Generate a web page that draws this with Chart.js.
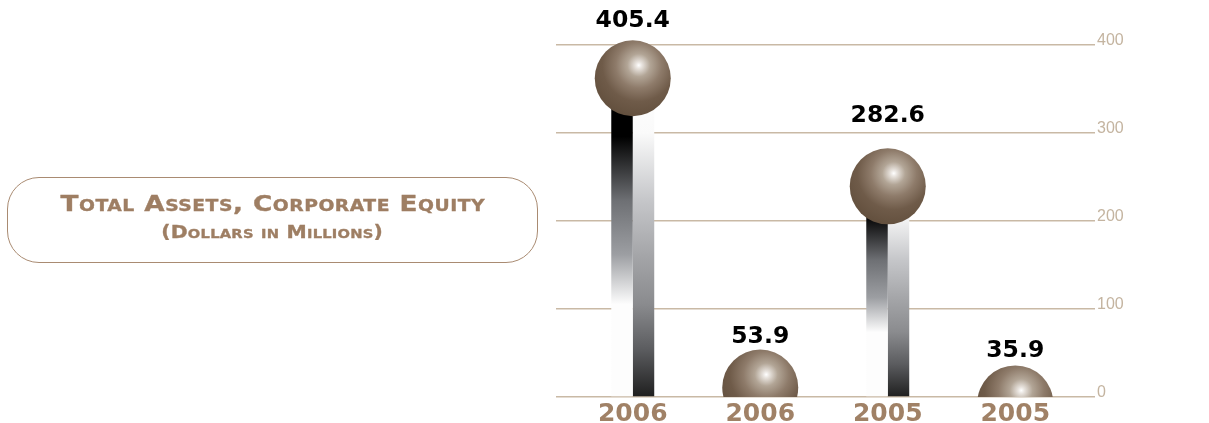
<!DOCTYPE html>
<html lang="en">
<head>
  <meta charset="UTF-8" />
  <title>Total Assets, Corporate Equity</title>
  <script src="https://cdn.jsdelivr.net/npm/chart.js"></script>
  <style>
    html, body { margin: 0; padding: 0; background: #fff; }
    #wrap { position: relative; width: 1209px; height: 423px; }
    #titulo {
      position: absolute; left: 7px; top: 177px; width: 531px; height: 86px;
      border: 1.4px solid #a98b72; border-radius: 32px; box-sizing: border-box;
      padding-top: 12px; text-align: center;
      font-family: "DejaVu Sans", sans-serif; font-weight: bold; font-variant: small-caps;
      color: #9e7e63; z-index: 2; -webkit-text-stroke: 0.35px #9e7e63;
    }
    #titulo div { height: 28px; }
    #titulo span { display: inline-block; transform-origin: center; white-space: nowrap; }
    #titulo .l1 span { font-size: 21px; line-height: 28px; letter-spacing: 0.4px; transform: scaleX(1.25); }
    #titulo .l2 span { font-size: 18px; line-height: 28px; letter-spacing: 0.2px; transform: scaleX(1.13); }
  </style>
</head>
<body>
  <div id="wrap">
    <div id="titulo"><div class="l1"><span></span></div><div class="l2"><span></span></div></div>
    <canvas id="grafico"></canvas>
  </div>
  <script>
    const years = ['2006', '2006', '2005', '2005'];
    const totals = [405.4, 53.9, 282.6, 35.9];
    const axisMax = 400;
    const axisStep = 100;
    const titleLines = ['Total Assets, Corporate Equity', '(Dollars in Millions)'];

    document.querySelector('#titulo .l1 span').textContent = titleLines[0];
    document.querySelector('#titulo .l2 span').textContent = titleLines[1];

    const tan = '#c9b9a5';
    const ballRadius = 38;

    // each column is two half bars with opposite gradients
    const leftStops = [[0, '#000'], [0.27, '#000'], [0.45, '#6e7074'], [0.6, '#9c9ea2'], [0.74, '#fdfdfd'], [1, '#fdfdfd']];
    const rightStops = [[0, '#fff'], [0.26, '#fafafa'], [0.45, '#c5c6c9'], [0.6, '#a5a6a9'], [0.74, '#8a8b8e'], [0.87, '#5a5b5e'], [1, '#1f1f1f']];

    function halfFill(stops) {
      return (c) => {
        const chart = c.chart;
        if (!chart.chartArea || c.type !== 'data') return '#888';
        const y = chart.scales.y;
        const top = y.getPixelForValue(c.raw);
        const base = y.getPixelForValue(0);
        const g = chart.ctx.createLinearGradient(0, top, 0, base);
        // the part above the ball's centre stays hidden
        const cut = Math.min(0.999, ballRadius / (base - top));
        g.addColorStop(0, 'rgba(255,255,255,0)');
        g.addColorStop(cut, 'rgba(255,255,255,0)');
        g.addColorStop(cut + 0.0005, stops[0][1]);
        stops.forEach(([o, col]) => { if (o > cut + 0.0005) g.addColorStop(o, col); });
        return g;
      };
    }

    // ball sitting on each column, top of the ball at the value
    const spheres = {
      id: 'spheres',
      afterDatasetsDraw(chart, args, opts) {
        const { ctx, chartArea } = chart;
        const xs = chart.scales.x, ys = chart.scales.y;
        const r = ballRadius;
        ctx.save();
        ctx.beginPath();
        ctx.rect(0, 0, chart.width, chartArea.bottom);
        ctx.clip();
        totals.forEach((v, i) => {
          const cx = xs.getPixelForValue(i);
          const cy = ys.getPixelForValue(v) + r;
          const hx = cx + 6, hy = cy - 13;
          const g = ctx.createRadialGradient(hx, hy, 0, hx, hy, r + 14);
          g.addColorStop(0, '#ffffff');
          g.addColorStop(0.06, '#e9e4df');
          g.addColorStop(0.22, '#b2a596');
          g.addColorStop(0.44, '#8e7b6a');
          g.addColorStop(0.7, '#6f5b49');
          g.addColorStop(1, '#63503e');
          ctx.beginPath();
          ctx.arc(cx, cy, r, 0, Math.PI * 2);
          ctx.fillStyle = g;
          ctx.fill();
        });
        ctx.restore();

        ctx.save();
        ctx.font = 'bold 23.5px "DejaVu Sans"';
        ctx.fillStyle = '#000';
        ctx.textAlign = 'center';
        ctx.textBaseline = 'alphabetic';
        totals.forEach((v, i) => {
          const x = xs.getPixelForValue(i);
          const y = ys.getPixelForValue(v) - opts.lift[i];
          ctx.fillText(v.toFixed(1), x, y);
        });
        ctx.restore();
      }
    };

    new Chart(document.getElementById('grafico'), {
      type: 'bar',
      data: {
        labels: years,
        datasets: [
          { data: totals, backgroundColor: halfFill(leftStops), borderWidth: 0 },
          { data: totals, backgroundColor: halfFill(rightStops), borderWidth: 0 }
        ]
      },
      options: {
        responsive: true,
        maintainAspectRatio: false,
        animation: false,
        categoryPercentage: 0.337,
        barPercentage: 1,
        layout: { padding: { left: 556, right: 84, top: 45, bottom: 0 } },
        plugins: {
          legend: { display: false },
          tooltip: { enabled: false },
          spheres: { lift: [13, 7, 26, 8] }
        },
        scales: {
          x: {
            grid: { display: false },
            border: { display: false },
            ticks: {
              color: '#a08166',
              padding: -4,
              font: { family: 'DejaVu Sans', weight: 'bold', size: 25, lineHeight: 1.04 }
            },
            afterFit(s) { s.height = 26; }
          },
          y: {
            position: 'right',
            min: 0,
            max: axisMax,
            border: { display: false },
            grid: { color: tan, lineWidth: 1.5, drawTicks: true, tickLength: 16 },
            ticks: {
              stepSize: axisStep,
              color: '#c4b4a0',
              padding: 2,
              labelOffset: -4,
              font: { family: 'Liberation Sans', size: 16 }
            },
            afterFit(s) { s.width = 46; }
          },
          yl: {
            position: 'left',
            min: 0,
            max: axisMax,
            border: { display: false },
            grid: { color: tan, lineWidth: 1.5, drawOnChartArea: false, drawTicks: true, tickLength: 13 },
            ticks: { stepSize: axisStep, display: false }
          }
        }
      },
      plugins: [spheres]
    });
  </script>
</body>
</html>
